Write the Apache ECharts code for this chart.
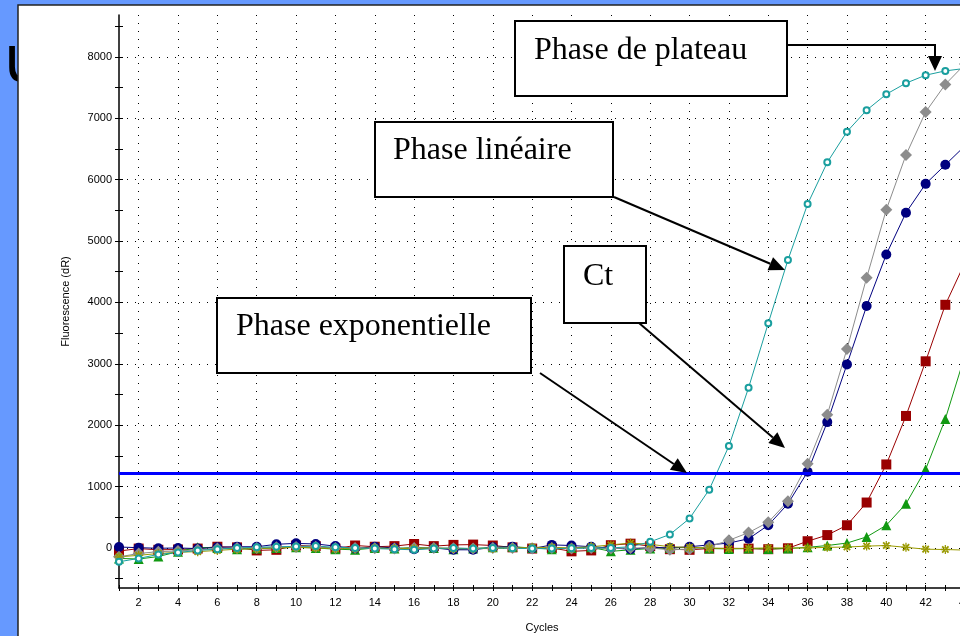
<!DOCTYPE html>
<html>
<head>
<meta charset="utf-8">
<script src="https://cdn.jsdelivr.net/npm/echarts@6/dist/echarts.min.js"></script>
<style>
html,body{margin:0;padding:0;background:#6699ff;}
#main{width:960px;height:636px;}
</style>
</head>
<body>
<div id="main"></div>
<script>
// cycles 1..44
var cycles=['1','2','3','4','5','6','7','8','9','10','11','12','13','14','15','16','17','18','19','20','21','22','23','24','25','26','27','28','29','30','31','32','33','34','35','36','37','38','39','40','41','42','43','44'];

var tealData=[-225,-170,-105,-75,-40,-20,0,10,20,25,30,10,0,-10,-20,-30,-10,0,-10,0,-5,-10,-10,-5,0,0,20,100,220,480,950,1660,2610,3660,4690,5600,6280,6780,7130,7390,7570,7700,7770,7810];
var grayData=[-145,-90,-60,-50,-30,-10,0,0,10,15,20,0,0,-5,-10,0,0,-5,-10,0,0,-10,0,-10,0,-10,0,0,-30,-20,20,125,250,420,760,1370,2170,3240,4400,5510,6400,7100,7550,7880];
var navyData=[15,5,-5,0,-10,10,20,20,60,75,65,30,-10,20,0,-20,0,-30,-30,10,20,-10,50,40,20,0,-20,10,0,20,50,80,150,370,720,1240,2050,2990,3940,4780,5460,5930,6240,6550];
var redData=[-50,-10,-30,-25,-10,20,10,-40,-30,40,30,-10,40,20,30,65,30,50,55,40,10,-10,0,-55,-40,45,70,30,-20,-30,-10,-5,-10,-20,-5,110,210,370,740,1360,2150,3040,3960,4650];
var greenData=[-170,-180,-140,-60,10,0,-20,-10,0,10,0,-20,-30,0,-10,10,0,-20,-10,10,20,0,-20,0,10,-55,-30,-10,0,10,-10,-15,-10,-15,-10,10,40,80,180,370,720,1280,2100,3140];
var oliveData=[-145,-120,-90,-70,-60,-40,-20,-10,0,10,0,-10,-10,0,-10,-10,0,-10,-10,-10,0,10,10,0,20,50,80,60,20,10,0,-10,-5,0,0,0,10,15,30,40,10,-20,-25,-35];

var threshold=1210;
var yTicks=[-500,0,500,1000,1500,2000,2500,3000,3500,4000,4500,5000,5500,6000,6500,7000,7500,8000,8500];
var yLabels=[0,1000,2000,3000,4000,5000,6000,7000,8000];

var asterisk='path://M-0.7,-5L0.7,-5L0.7,5L-0.7,5Z M-5,-0.7L5,-0.7L5,0.7L-5,0.7Z M2.83,4.25L4.25,2.83L-2.83,-4.25L-4.25,-2.83Z M-2.83,4.25L-4.25,2.83L2.83,-4.25L4.25,-2.83Z';

function evenCycle(i){return i%2===1;}

function arrow(x1,y1,x2,y2){
  var dx=x2-x1,dy=y2-y1,L=Math.sqrt(dx*dx+dy*dy),ux=dx/L,uy=dy/L;
  var hl=16,hw=7;
  var bx=x2-ux*hl,by=y2-uy*hl;
  return [
    {type:'line',z:100,shape:{x1:x1,y1:y1,x2:bx,y2:by},style:{stroke:'#000',lineWidth:2}},
    {type:'polygon',z:100,shape:{points:[[x2,y2],[bx-uy*hw,by+ux*hw],[bx+uy*hw,by-ux*hw]]},style:{fill:'#000'}}
  ];
}
function box(x,y,w,h,text,tx,ty){
  return [
    {type:'rect',z:100,shape:{x:x,y:y,width:w,height:h},style:{fill:'#fff',stroke:'#000',lineWidth:2}},
    {type:'text',z:101,x:tx,y:ty,style:{text:text,font:'32px "Liberation Serif"',fill:'#000',verticalAlign:'middle'}}
  ];
}

var elements=[
  {type:'text',z:-20,x:-14,y:32,style:{text:'lu',font:'64px "DejaVu Sans"',fill:'#000'}},
  {type:'rect',z:-10,shape:{x:18,y:5,width:960,height:640},style:{fill:'#fff',stroke:'#222',lineWidth:1.5}}
];
elements=elements
  .concat(box(515,21,272,75,'Phase de plateau',534,51))
  .concat(box(375,122,238,75,'Phase linéaire',393,151))
  .concat(box(564,246,82,77,'Ct',583,277))
  .concat(box(217,298,314,75,'Phase exponentielle',236,327))
  .concat([
    {type:'polyline',z:100,shape:{points:[[787,45],[935,45],[935,56]]},style:{stroke:'#000',lineWidth:2,fill:null}},
    {type:'polygon',z:100,shape:{points:[[935,71],[928,56],[942,56]]},style:{fill:'#000'}}
  ])
  .concat(arrow(614,197,785,270))
  .concat(arrow(639,323,785,448))
  .concat(arrow(540,373,687,473));

var chartDom=document.getElementById('main');
var myChart=echarts.init(chartDom);
var labelFont={color:'#000',fontSize:11,fontFamily:'Liberation Sans'};
var dotted={color:'#000',width:1,type:[1,7]};

function lineSeries(name,data,color,symbol,size,extra){
  var s={
    name:name,type:'line',data:data,symbol:symbol,symbolSize:size,
    lineStyle:{color:color,width:1},
    itemStyle:{color:color},
    animation:false
  };
  for(var k in extra){s[k]=extra[k];}
  return s;
}

var option={
  backgroundColor:'#6699ff',
  animation:false,
  grid:{left:119,right:-5,top:15,bottom:48,containLabel:false,outerBoundsMode:'none'},
  graphic:{elements:elements},
  xAxis:[
    {
      type:'category',data:cycles,boundaryGap:false,
      axisLine:{onZero:false,lineStyle:{color:'#000',width:1.5}},
      axisTick:{interval:0,length:3,lineStyle:{color:'#000'}},
      axisLabel:Object.assign({interval:evenCycle,margin:9},labelFont),
      splitLine:{show:true,interval:evenCycle,lineStyle:dotted},
      name:'Cycles',nameLocation:'middle',nameGap:34,
      nameTextStyle:labelFont
    },
    {
      type:'category',data:cycles,boundaryGap:false,position:'bottom',
      axisLine:{show:false,onZero:false},
      axisTick:{interval:0,inside:true,length:3,lineStyle:{color:'#000'}},
      axisLabel:{show:false},
      splitLine:{show:false}
    }
  ],
  yAxis:[
    {
      type:'value',min:-652,max:8680,position:'left',
      axisLine:{show:true,lineStyle:{color:'#000',width:1.5}},
      axisTick:{show:true,length:4,customValues:yTicks,lineStyle:{color:'#000'}},
      axisLabel:Object.assign({customValues:yLabels,margin:7,formatter:function(v){return String(v);}},labelFont),
      splitLine:{show:false},
      name:'Fluorescence (dR)',nameLocation:'middle',nameGap:48,
      nameTextStyle:labelFont
    },
    {
      type:'value',min:-652,max:8680,position:'left',
      axisLine:{show:false},
      axisTick:{show:true,inside:true,length:4,customValues:yTicks,lineStyle:{color:'#000'}},
      axisLabel:{show:false},
      splitLine:{show:false}
    },
    {
      type:'value',min:-652,max:8680,position:'left',
      axisLine:{show:false},
      axisTick:{show:false,customValues:yLabels},
      axisLabel:{show:false},
      splitLine:{show:true,lineStyle:dotted}
    }
  ],
  series:[
    lineSeries('red',redData,'#990000','rect',10,{}),
    lineSeries('green',greenData,'#119911','triangle',10,{}),
    lineSeries('navy',navyData,'#00007f','circle',10,{}),
    lineSeries('gray',grayData,'#8c8c8c','diamond',12,{}),
    lineSeries('olive',oliveData,'#999900',asterisk,9,{}),
    lineSeries('teal',tealData,'#1a9f9f','emptyCircle',6,{
      markLine:{silent:true,symbol:'none',label:{show:false},
        lineStyle:{color:'#0000ff',width:3,type:'solid'},
        data:[{yAxis:threshold}]}
    })
  ]
};
myChart.setOption(option);
</script>
</body>
</html>
